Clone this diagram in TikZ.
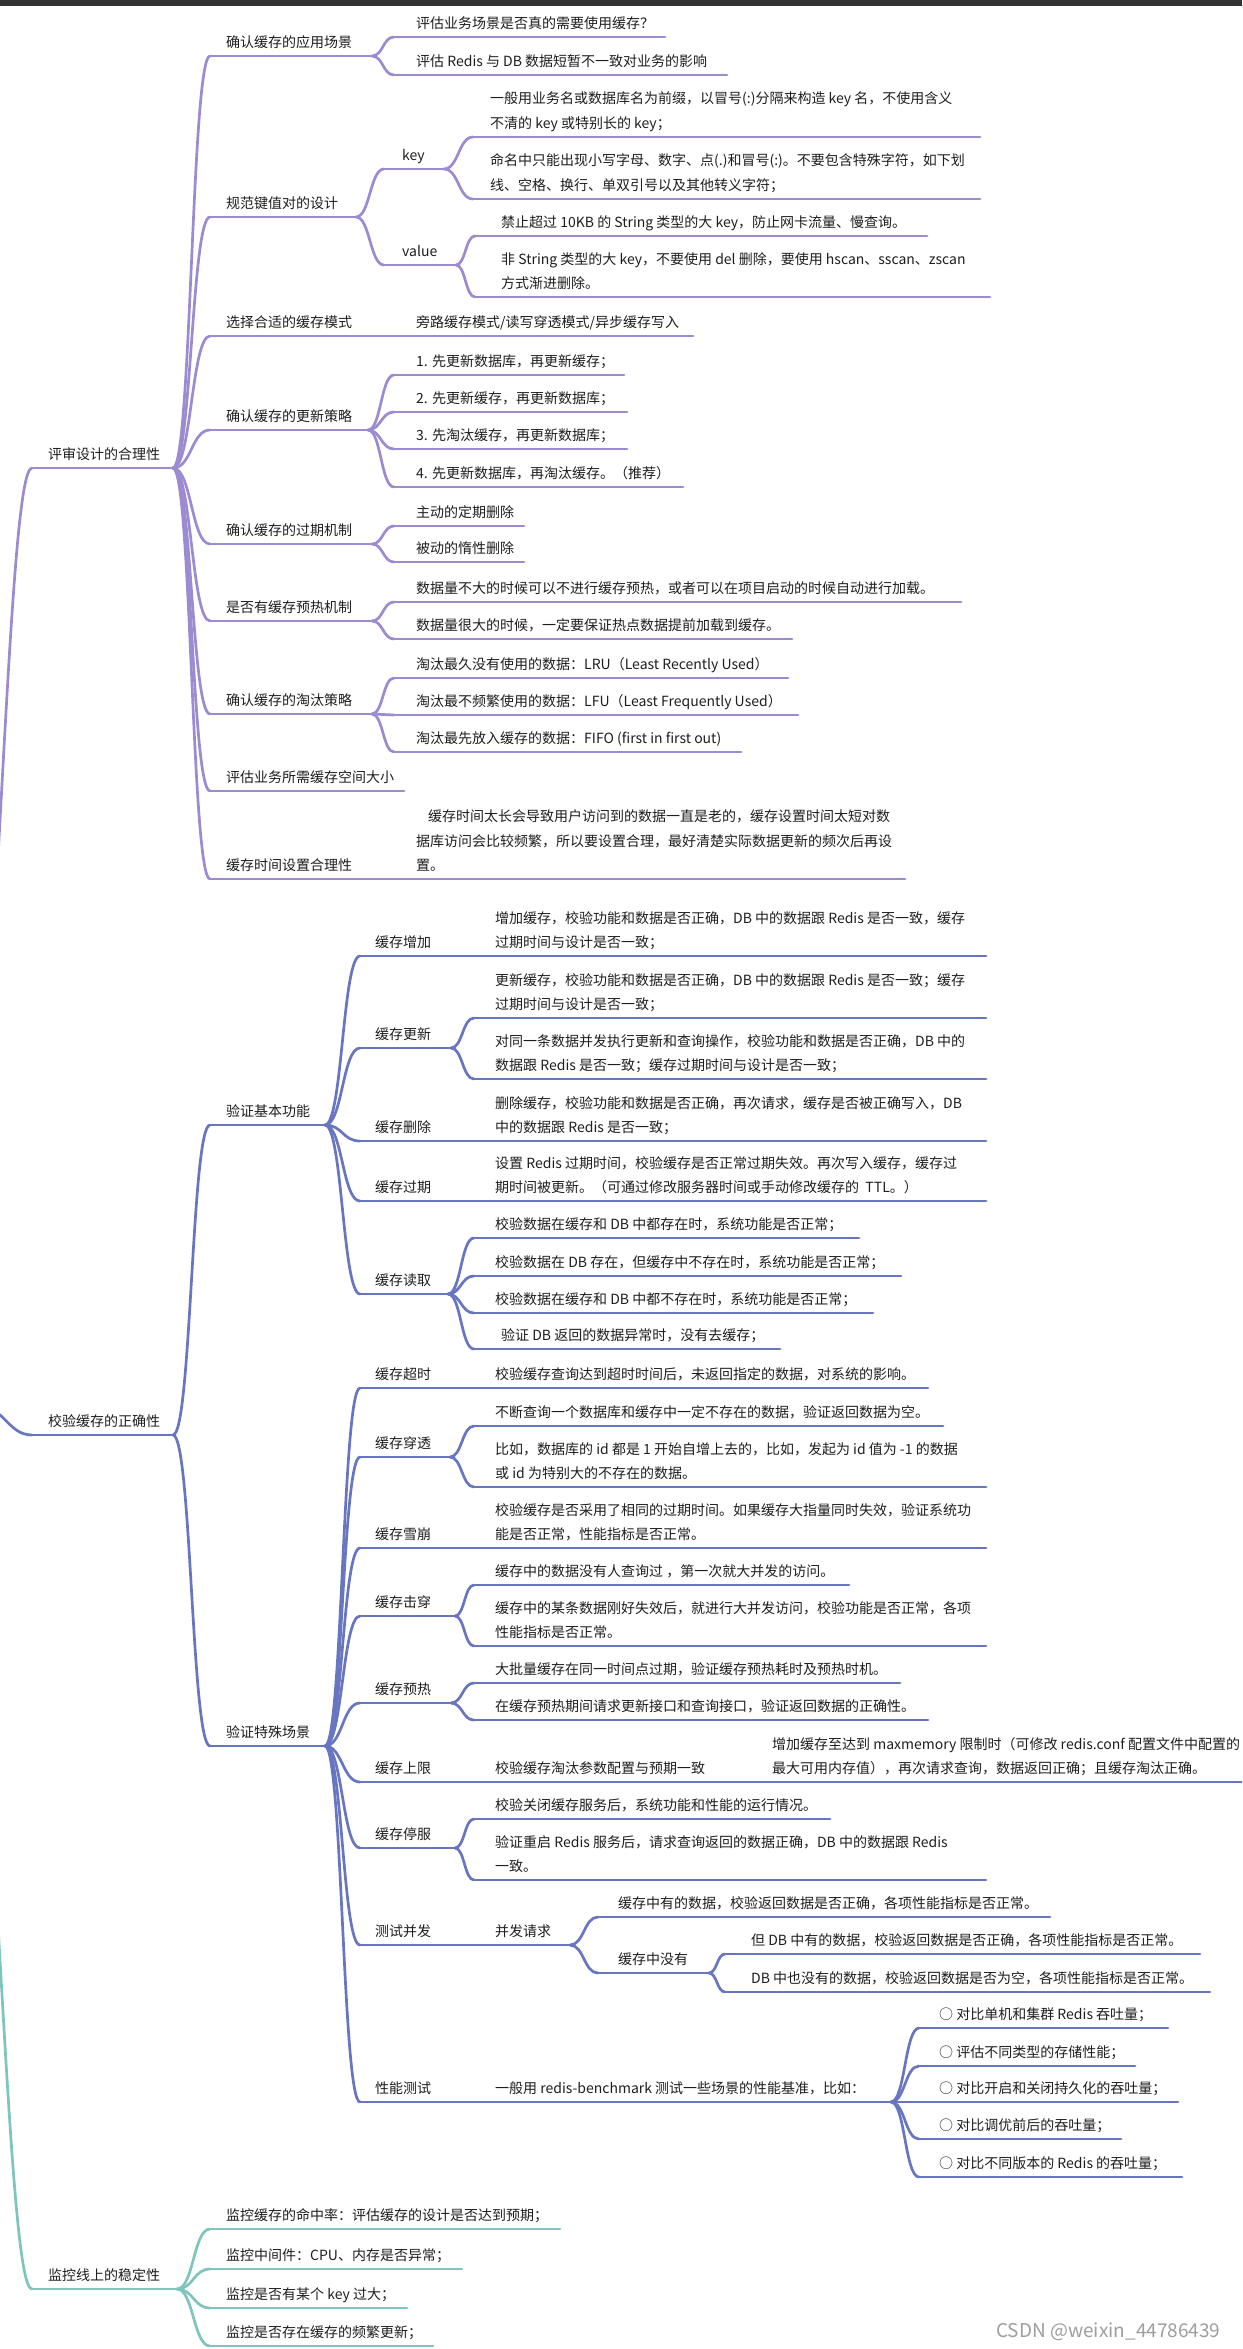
\documentclass[tikz,border=0pt]{standalone}
\usepackage{fontspec}
\setmainfont{Noto Sans CJK SC}
\usetikzlibrary{calc}
\definecolor{purp}{RGB}{156,139,208}
\definecolor{blu}{RGB}{104,118,194}
\definecolor{mmteal}{RGB}{128,196,190}
\definecolor{txtc}{RGB}{30,30,30}
\definecolor{barc}{RGB}{51,51,51}
\newcommand\mlines[1]{\begin{tabular}[b]{@{}l@{}}#1\end{tabular}}
\newcommand\mmnode[6]{%
  \coordinate (#1-l) at (#2,#4);
  \coordinate (#1-r) at (#3,#4);
  \draw[ul] (#1-l) -- (#1-r);
  \node[mmtext] (#1) at (#5,#4-8.5) {#6};
}
\newcommand\mmlinks[2]{\foreach \mmchild in {#2}{\draw[ul] (#1-r) to[mmlink] (\mmchild-l);}}
\begin{document}
\begin{tikzpicture}[x=1pt,y=-1pt,
  mmtext/.style={inner sep=0pt,anchor=base west,text=txtc,font=\fontsize{14}{24.5}\selectfont},
  mmlink/.style={to path={let \p1=(\tikztostart),\p2=(\tikztotarget) in .. controls ({0.5*\x1+0.5*\x2},\y1) and ({0.5*\x1+0.5*\x2},\y2) .. (\tikztotarget)}}]
\useasboundingbox (0,0) rectangle (1242,2349);
\fill[white] (0,0) rectangle (1242,2349);
\clip (0,0) rectangle (1242,2349);
\fill[barc] (0,0) rectangle (1242,6);
\coordinate (root) at (-40,1400);

% ---------------- purple branch
\begin{scope}[ul/.style={draw=purp,line width=2.7pt,line cap=round}]
\mmnode{A}{32}{173}{468}{48}{评审设计的合理性}
\mmnode{A1}{210}{372}{56}{226}{确认缓存的应用场景}
\mmnode{A1a}{394}{665}{37}{416}{评估业务场景是否真的需要使用缓存？}
\mmnode{A1b}{394}{727}{75}{416}{评估 Redis 与 DB 数据短暂不一致对业务的影响}
\mmnode{A2}{210}{356}{217}{226}{规范键值对的设计}
\mmnode{A2k}{384}{444}{169}{402}{key}
\mmnode{A2ka}{473}{980}{137}{490}{\mlines{一般用业务名或数据库名为前缀，以冒号(:)分隔来构造 key 名，不使用含义\\不清的 key 或特别长的 key；}}
\mmnode{A2kb}{473}{980}{199}{490}{\mlines{命名中只能出现小写字母、数字、点(.)和冒号(:)。不要包含特殊字符，如下划\\线、空格、换行、单双引号以及其他转义字符；}}
\mmnode{A2v}{384}{456}{265}{402}{value}
\mmnode{A2va}{475}{927}{236}{501}{禁止超过 10KB 的 String 类型的大 key，防止网卡流量、慢查询。}
\mmnode{A2vb}{475}{990}{297}{501}{\mlines{非 String 类型的大 key，不要使用 del 删除，要使用 hscan、sscan、zscan\\方式渐进删除。}}
\mmnode{A3}{210}{372}{336}{226}{选择合适的缓存模式}
\mmnode{A3a}{394}{693}{336}{416}{旁路缓存模式/读写穿透模式/异步缓存写入}
\mmnode{A4}{210}{368}{430}{226}{确认缓存的更新策略}
\mmnode{A4a}{394}{624}{375}{416}{1. 先更新数据库，再更新缓存；}
\mmnode{A4b}{394}{627}{412}{416}{2. 先更新缓存，再更新数据库；}
\mmnode{A4c}{394}{627}{449}{416}{3. 先淘汰缓存，再更新数据库；}
\mmnode{A4d}{394}{683}{487}{416}{4. 先更新数据库，再淘汰缓存。（推荐）}
\mmnode{A5}{210}{372}{544}{226}{确认缓存的过期机制}
\mmnode{A5a}{394}{524}{526}{416}{主动的定期删除}
\mmnode{A5b}{394}{524}{562}{416}{被动的惰性删除}
\mmnode{A6}{210}{372}{621}{226}{是否有缓存预热机制}
\mmnode{A6a}{394}{961}{602}{416}{数据量不大的时候可以不进行缓存预热，或者可以在项目启动的时候自动进行加载。}
\mmnode{A6b}{394}{792}{639}{416}{数据量很大的时候，一定要保证热点数据提前加载到缓存。}
\mmnode{A7}{210}{372}{714}{226}{确认缓存的淘汰策略}
\mmnode{A7a}{394}{788}{678}{416}{淘汰最久没有使用的数据：LRU（Least Recently Used）}
\mmnode{A7b}{394}{798}{715}{416}{淘汰最不频繁使用的数据：LFU（Least Frequently Used）}
\mmnode{A7c}{394}{741}{752}{416}{淘汰最先放入缓存的数据：FIFO (first in first out)}
\mmnode{A8}{210}{404}{791}{226}{评估业务所需缓存空间大小}
\mmnode{A9}{210}{372}{879}{226}{缓存时间设置合理性}
\mmnode{A9a}{394}{905}{879}{416}{\mlines{\hspace*{12pt}缓存时间太长会导致用户访问到的数据一直是老的，缓存设置时间太短对数\\据库访问会比较频繁，所以要设置合理，最好清楚实际数据更新的频次后再设\\置。}}
\draw[ul] (A-l) .. controls +(-24,0) and +(40,-400) .. (root);
\mmlinks{A}{A1,A2,A3,A4,A5,A6,A7,A8,A9}
\mmlinks{A1}{A1a,A1b}
\mmlinks{A2}{A2k,A2v}
\mmlinks{A2k}{A2ka,A2kb}
\mmlinks{A2v}{A2va,A2vb}
\mmlinks{A3}{A3a}
\mmlinks{A4}{A4a,A4b,A4c,A4d}
\mmlinks{A5}{A5a,A5b}
\mmlinks{A6}{A6a,A6b}
\mmlinks{A7}{A7a,A7b,A7c}
\mmlinks{A9}{A9a}
\end{scope}

% ---------------- blue branch
\begin{scope}[ul/.style={draw=blu,line width=2.7pt,line cap=round}]
\mmnode{B}{32}{173}{1435}{48}{校验缓存的正确性}
\mmnode{B1}{210}{325}{1125}{226}{验证基本功能}
\mmnode{B1a}{360}{451}{956}{375}{缓存增加}
\mmnode{B1aa}{474}{986}{956}{495}{\mlines{增加缓存，校验功能和数据是否正确，DB 中的数据跟 Redis 是否一致，缓存\\过期时间与设计是否一致；}}
\mmnode{B1b}{360}{451}{1048}{375}{缓存更新}
\mmnode{B1ba}{474}{986}{1018}{495}{\mlines{更新缓存，校验功能和数据是否正确，DB 中的数据跟 Redis 是否一致；缓存\\过期时间与设计是否一致；}}
\mmnode{B1bb}{474}{986}{1079}{495}{\mlines{对同一条数据并发执行更新和查询操作，校验功能和数据是否正确，DB 中的\\数据跟 Redis 是否一致；缓存过期时间与设计是否一致；}}
\mmnode{B1c}{360}{451}{1141}{375}{缓存删除}
\mmnode{B1ca}{474}{986}{1141}{495}{\mlines{删除缓存，校验功能和数据是否正确，再次请求，缓存是否被正确写入，DB\\中的数据跟 Redis 是否一致；}}
\mmnode{B1d}{360}{451}{1201}{375}{缓存过期}
\mmnode{B1da}{474}{986}{1201}{495}{\mlines{设置 Redis 过期时间，校验缓存是否正常过期失效。再次写入缓存，缓存过\\期时间被更新。（可通过修改服务器时间或手动修改缓存的 \ TTL。）}}
\mmnode{B1e}{360}{448}{1294}{375}{缓存读取}
\mmnode{B1ea}{474}{859}{1238}{495}{校验数据在缓存和 DB 中都存在时，系统功能是否正常；}
\mmnode{B1eb}{474}{901}{1276}{495}{校验数据在 DB 存在，但缓存中不存在时，系统功能是否正常；}
\mmnode{B1ec}{474}{873}{1313}{495}{校验数据在缓存和 DB 中都不存在时，系统功能是否正常；}
\mmnode{B1ed}{474}{780}{1349}{501}{验证 DB 返回的数据异常时，没有去缓存；}
\mmnode{B2}{210}{325}{1746}{226}{验证特殊场景}
\mmnode{B2a}{360}{451}{1388}{375}{缓存超时}
\mmnode{B2aa}{474}{928}{1388}{495}{校验缓存查询达到超时时间后，未返回指定的数据，对系统的影响。}
\mmnode{B2b}{360}{450}{1457}{375}{缓存穿透}
\mmnode{B2ba}{474}{943}{1426}{495}{不断查询一个数据库和缓存中一定不存在的数据，验证返回数据为空。}
\mmnode{B2bb}{474}{986}{1487}{495}{\mlines{比如，数据库的 id 都是 1 开始自增上去的，比如，发起为 id 值为 -1 的数据\\或 id 为特别大的不存在的数据。}}
\mmnode{B2c}{360}{451}{1548}{375}{缓存雪崩}
\mmnode{B2ca}{474}{986}{1548}{495}{\mlines{校验缓存是否采用了相同的过期时间。如果缓存大指量同时失效，验证系统功\\能是否正常，性能指标是否正常。}}
\mmnode{B2d}{360}{455}{1616}{375}{缓存击穿}
\mmnode{B2da}{474}{849}{1585}{495}{缓存中的数据没有人查询过 ，第一次就大并发的访问。}
\mmnode{B2db}{474}{986}{1646}{495}{\mlines{缓存中的某条数据刚好失效后，就进行大并发访问，校验功能是否正常，各项\\性能指标是否正常。}}
\mmnode{B2e}{360}{451}{1703}{375}{缓存预热}
\mmnode{B2ea}{474}{900}{1683}{495}{大批量缓存在同一时间点过期，验证缓存预热耗时及预热时机。}
\mmnode{B2eb}{474}{928}{1720}{495}{在缓存预热期间请求更新接口和查询接口，验证返回数据的正确性。}
\mmnode{B2f}{360}{451}{1782}{375}{缓存上限}
\mmnode{B2fa}{474}{750}{1782}{495}{校验缓存淘汰参数配置与预期一致}
\mmnode{B2fb}{770}{1260}{1782}{772}{\mlines{增加缓存至达到 maxmemory 限制时（可修改 redis.conf 配置文件中配置的\\最大可用内存值），再次请求查询，数据返回正确；且缓存淘汰正确。}}
\mmnode{B2g}{360}{455}{1848}{375}{缓存停服}
\mmnode{B2ga}{474}{830}{1819}{495}{校验关闭缓存服务后，系统功能和性能的运行情况。}
\mmnode{B2gb}{474}{986}{1880}{495}{\mlines{验证重启 Redis 服务后，请求查询返回的数据正确，DB 中的数据跟 Redis\\一致。}}
\mmnode{B2h}{360}{451}{1945}{375}{测试并发}
\mmnode{B2ha}{474}{570}{1945}{495}{并发请求}
\mmnode{B2haa}{598}{1050}{1917}{618}{缓存中有的数据，校验返回数据是否正确，各项性能指标是否正常。}
\mmnode{B2hab}{598}{709}{1973}{618}{缓存中没有}
\mmnode{B2haba}{725}{1200}{1954}{751}{但 DB 中有的数据，校验返回数据是否正确，各项性能指标是否正常。}
\mmnode{B2habb}{725}{1210}{1992}{751}{DB 中也没有的数据，校验返回数据是否为空，各项性能指标是否正常。}
\mmnode{B2i}{360}{451}{2102}{375}{性能测试}
\mmnode{B2ia}{474}{891}{2102}{495}{一般用 redis-benchmark 测试一些场景的性能基准，比如：}
\mmnode{B2iaa}{919}{1168}{2028}{939}{○ 对比单机和集群 Redis 吞吐量；}
\mmnode{B2iab}{919}{1135}{2066}{939}{○ 评估不同类型的存储性能；}
\mmnode{B2iac}{919}{1178}{2102}{939}{○ 对比开启和关闭持久化的吞吐量；}
\mmnode{B2iad}{919}{1121}{2139}{939}{○ 对比调优前后的吞吐量；}
\mmnode{B2iae}{919}{1182}{2177}{939}{○ 对比不同版本的 Redis 的吞吐量；}
\draw[ul] (B-l) .. controls +(-27,0) and +(45,0) .. (root);
\mmlinks{B}{B1,B2}
\mmlinks{B1}{B1a,B1b,B1c,B1d,B1e}
\mmlinks{B1a}{B1aa}
\mmlinks{B1b}{B1ba,B1bb}
\mmlinks{B1c}{B1ca}
\mmlinks{B1d}{B1da}
\mmlinks{B1e}{B1ea,B1eb,B1ec,B1ed}
\mmlinks{B2}{B2a,B2b,B2c,B2d,B2e,B2f,B2g,B2h,B2i}
\mmlinks{B2a}{B2aa}
\mmlinks{B2b}{B2ba,B2bb}
\mmlinks{B2c}{B2ca}
\mmlinks{B2d}{B2da,B2db}
\mmlinks{B2e}{B2ea,B2eb}
\mmlinks{B2f}{B2fa}
\mmlinks{B2fa}{B2fb}
\mmlinks{B2g}{B2ga,B2gb}
\mmlinks{B2h}{B2ha}
\mmlinks{B2ha}{B2haa,B2hab}
\mmlinks{B2hab}{B2haba,B2habb}
\mmlinks{B2i}{B2ia}
\mmlinks{B2ia}{B2iaa,B2iab,B2iac,B2iad,B2iae}
\end{scope}

% ---------------- teal branch
\begin{scope}[ul/.style={draw=mmteal,line width=2.7pt,line cap=round}]
\mmnode{C}{32}{177}{2289}{48}{监控线上的稳定性}
\mmnode{C1}{210}{560}{2229}{226}{监控缓存的命中率：评估缓存的设计是否达到预期；}
\mmnode{C2}{210}{462}{2269}{226}{监控中间件：CPU、内存是否异常；}
\mmnode{C3}{210}{407}{2308}{226}{监控是否有某个 key 过大；}
\mmnode{C4}{210}{433}{2346}{226}{监控是否存在缓存的频繁更新；}
\draw[ul] (C-l) .. controls +(-24,0) and +(40,400) .. (root);
\mmlinks{C}{C1,C2,C3,C4}
\end{scope}

\node[anchor=base west,inner sep=0pt,text=black!38,font=\fontsize{19}{19}\selectfont] (wm) at (996,2337) {CSDN @weixin\_44786439};
\end{tikzpicture}
\end{document}
